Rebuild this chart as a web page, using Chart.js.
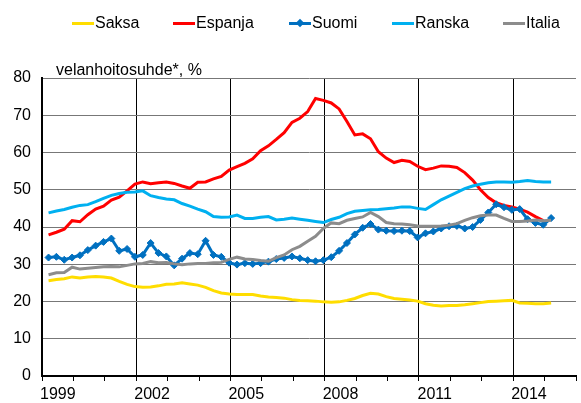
<!DOCTYPE html>
<html>
<head>
<meta charset="utf-8">
<script src="https://cdn.jsdelivr.net/npm/chart.js@4.4.1/dist/chart.umd.min.js"></script>
<style>
  body { margin: 0; background: #fff; font-family: Arial, 'Liberation Sans', sans-serif; }
  #wrap { position: relative; width: 581px; height: 403px; }
  .legend-item { position: absolute; top: 14px; display: flex; align-items: center; font-size: 16px; line-height: 18px; color: #000; white-space: nowrap; }
  .legend-line { position: relative; width: 22px; height: 3px; margin-right: 1px; }
  .legend-line .dot { position: absolute; left: 8px; top: -2px; width: 6px; height: 6px; transform: rotate(45deg); }
</style>
</head>
<body>
<div id="wrap">
  <canvas id="chart"></canvas>
  <div id="legend"></div>
</div>
<script>
// quarterly data, 1999Q1 .. 2015Q1
const years = [1999, 2000, 2001, 2002, 2003, 2004, 2005, 2006, 2007, 2008, 2009, 2010, 2011, 2012, 2013, 2014, 2015]
const quarters = []
years.forEach((y) => [1, 2, 3, 4].forEach((q) => quarters.push(y + 'Q' + q)))
quarters.length = 65

const saksa = [
  25.6, 25.9, 26.1, 26.6, 26.3, 26.6, 26.7, 26.6, 26.3, 25.4,
  24.6, 24.0, 23.8, 23.9, 24.2, 24.6, 24.7, 25.0, 24.7, 24.4,
  23.8, 22.9, 22.3, 22.0, 21.9, 21.9, 21.9, 21.5, 21.2, 21.1,
  20.9, 20.5, 20.3, 20.2, 20.1, 19.9, 19.8, 19.9, 20.3, 20.8,
  21.6, 22.2, 22.0, 21.3, 20.8, 20.6, 20.4, 20.1, 19.4, 19.0,
  18.8, 18.9, 18.9, 19.1, 19.4, 19.7, 20.0, 20.1, 20.2, 20.3,
  19.6, 19.5, 19.4, 19.4, 19.6,
]
const espanja = [
  37.9, 38.6, 39.4, 41.7, 41.4, 43.3, 44.8, 45.6, 47.2, 48.0,
  49.7, 51.5, 52.1, 51.6, 51.9, 52.1, 51.7, 51.0, 50.4, 52.0,
  52.1, 52.9, 53.6, 55.3, 56.2, 57.1, 58.3, 60.5, 61.8, 63.5,
  65.3, 68.1, 69.2, 71.0, 74.5, 74.0, 73.3, 71.7, 68.3, 64.7,
  65.0, 63.7, 60.2, 58.5, 57.3, 57.9, 57.6, 56.3, 55.4, 55.8,
  56.4, 56.3, 56.0, 54.6, 52.6, 50.0, 47.9, 46.5, 45.8, 45.4,
  44.8, 44.0, 42.8, 41.7, null,
]
const suomi = [
  31.8, 32.0, 31.2, 31.8, 32.4, 33.8, 35.0, 36.0, 36.9, 33.6,
  34.1, 32.0, 32.5, 35.7, 33.0, 32.1, 29.7, 31.5, 33.0, 32.7,
  36.3, 32.5, 32.0, 30.4, 29.9, 30.3, 30.1, 30.3, 30.7, 31.4,
  31.7, 32.1, 31.6, 31.1, 30.8, 31.1, 31.9, 33.6, 35.7, 38.0,
  39.8, 40.8, 39.3, 39.0, 38.9, 39.0, 38.9, 37.2, 38.3, 38.8,
  39.6, 40.2, 40.3, 39.6, 40.0, 41.9, 43.9, 46.1, 45.3, 44.6,
  44.8, 42.1, 41.1, 40.6, 42.4,
]
const ranska = [
  43.8, 44.3, 44.7, 45.3, 45.8, 46.0, 46.8, 47.7, 48.5, 49.0,
  49.3, 49.4, 49.7, 48.4, 47.9, 47.5, 47.3, 46.3, 45.6, 44.8,
  44.1, 42.8, 42.6, 42.7, 43.2, 42.3, 42.3, 42.6, 42.8, 41.9,
  42.1, 42.4, 42.1, 41.8, 41.5, 41.2, 42.0, 42.6, 43.6, 44.2,
  44.4, 44.6, 44.7, 44.9, 45.1, 45.4, 45.4, 45.0, 44.7, 46.0,
  47.3, 48.3, 49.3, 50.3, 51.0, 51.5, 51.9, 52.1, 52.1, 52.0,
  52.2, 52.5, 52.2, 52.1, 52.1,
]
const italia = [
  27.2, 27.7, 27.8, 29.2, 28.7, 28.9, 29.1, 29.3, 29.4, 29.3,
  29.7, 30.1, 30.2, 30.7, 30.4, 30.5, 30.1, 29.9, 30.1, 30.2,
  30.2, 30.4, 30.5, 31.3, 31.9, 31.4, 31.3, 31.0, 30.8, 31.8,
  32.5, 33.9, 34.8, 36.2, 37.5, 39.6, 41.1, 40.9, 41.8, 42.3,
  42.7, 43.9, 42.8, 41.2, 40.9, 40.8, 40.6, 40.3, 40.2, 40.2,
  40.3, 40.5, 40.9, 41.8, 42.5, 43.0, 43.2, 43.2, 42.3, 41.5,
  41.5, 41.6, 41.9, 41.7, 41.8,
]

const yearLabels = [1999, 2002, 2005, 2008, 2011, 2014]
const yTicks = [0, 10, 20, 30, 40, 50, 60, 70, 80]
const axisTitle = 'velanhoitosuhde*, %'

const series = [
  { label: 'Saksa', data: saksa, color: '#FFDD00' },
  { label: 'Espanja', data: espanja, color: '#FF0000' },
  { label: 'Suomi', data: suomi, color: '#0070C0', marker: true },
  { label: 'Ranska', data: ranska, color: '#00B0F0' },
  { label: 'Italia', data: italia, color: '#8C8C8C' },
]

// quarter label -> position on a year axis (middle of the quarter's last month)
function quarterX(label) {
  const year = parseInt(label.slice(0, 4), 10)
  const q = parseInt(label.slice(5), 10)
  return year + (3 * q - 0.5) / 12
}

const font = { family: 'Arial, "Liberation Sans", sans-serif', size: 16 }

const axisTitlePlugin = {
  id: 'axisTitle',
  afterDraw(chart) {
    const { ctx, chartArea } = chart
    ctx.save()
    ctx.font = '16px Arial, "Liberation Sans", sans-serif'
    ctx.fillStyle = '#000'
    ctx.textBaseline = 'alphabetic'
    ctx.fillText(axisTitle, chartArea.left + 14, chartArea.top - 3)
    ctx.restore()
  },
}

new Chart(document.getElementById('chart'), {
  type: 'line',
  data: {
    datasets: series.map((s, i) => ({
      label: s.label,
      data: s.data.map((v, k) => ({ x: quarterX(quarters[k]), y: v })),
      borderColor: s.color,
      backgroundColor: s.color,
      borderWidth: 3,
      pointRadius: s.marker ? 3.5 : 0,
      pointStyle: 'rectRot',
      pointBorderWidth: 1,
      tension: 0,
      spanGaps: false,
      order: series.length - i,
    })),
  },
  options: {
    responsive: true,
    maintainAspectRatio: false,
    animation: false,
    layout: { padding: { top: 78, right: 2, left: 0, bottom: 0 } },
    plugins: {
      legend: { display: false },
      tooltip: { enabled: false },
    },
    scales: {
      x: {
        type: 'linear',
        min: 1999,
        max: 2016,
        afterFit: (scale) => { scale.height = 27 },
        border: { color: '#000', width: 2 },
        grid: {
          color: (c) => {
            const v = c.tick && c.tick.value
            return v > 1999 && v < 2016 && (v - 1999) % 3 === 0 ? '#000' : 'rgba(0,0,0,0)'
          },
          tickColor: '#000',
          tickLength: 5,
          lineWidth: 1,
        },
        ticks: {
          stepSize: 1,
          autoSkip: false,
          maxRotation: 0,
          padding: 4,
          labelOffset: 15.8,
          color: '#000',
          font,
          callback: (v) => (yearLabels.includes(v) ? String(v) : ''),
        },
      },
      y: {
        min: 0,
        max: 80,
        afterFit: (scale) => { scale.width = 42 },
        afterBuildTicks: (scale) => { scale.ticks = yTicks.map((v) => ({ value: v })) },
        border: { color: '#000', width: 2 },
        grid: { color: '#777', lineWidth: 1, drawTicks: false },
        ticks: { padding: 11, color: '#000', font },
      },
    },
  },
  plugins: [axisTitlePlugin],
})

// legend as plain html above the plot
const legendLeft = [72, 173, 289, 392, 503]
document.getElementById('legend').innerHTML = series
  .map(
    (s, i) => `
    <div class="legend-item" style="left:${legendLeft[i]}px">
      <span class="legend-line" style="background:${s.color}">${s.marker ? `<span class="dot" style="background:${s.color}"></span>` : ''}</span>
      <span>${s.label}</span>
    </div>`,
  )
  .join('')
</script>
</body>
</html>
